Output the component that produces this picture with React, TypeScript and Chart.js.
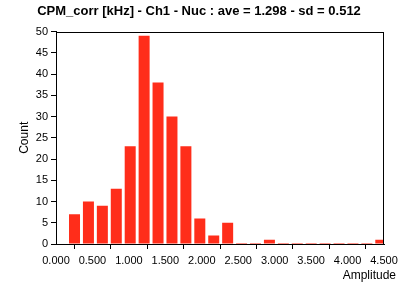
import React, { useEffect, useRef } from "react";
import { Chart, registerables } from "chart.js";

Chart.register(...registerables);

const titleText = "CPM_corr [kHz] - Ch1 - Nuc : ave = 1.298 - sd = 0.512";
const xAxisTitle = "Amplitude";
const yAxisTitle = "Count";

const binCenters = [
  0.254, 0.445, 0.636, 0.827, 1.018, 1.209, 1.400, 1.591, 1.782, 1.973, 2.164, 2.355,
  2.546, 2.737, 2.928, 3.119, 3.310, 3.501, 3.692, 3.883, 4.074, 4.265, 4.456,
];
const counts = [7, 10, 9, 13, 23, 49, 38, 30, 23, 6, 2, 5, 0, 0, 1, 0, 0, 0, 0, 0, 0, 0, 1];

const FONT = "'Liberation Sans', Arial, sans-serif";

const framePlugin = {
  id: "frame",
  afterDatasetsDraw(chart: any) {
    const { ctx, chartArea } = chart;
    ctx.save();
    ctx.strokeStyle = "#000";
    ctx.lineWidth = 1;
    ctx.strokeRect(
      Math.round(chartArea.left) + 0.5,
      Math.round(chartArea.top) + 0.5,
      Math.round(chartArea.right - chartArea.left) - 1,
      Math.round(chartArea.bottom - chartArea.top)
    );
    ctx.restore();
  },
  afterDraw(chart: any) {
    const { ctx, chartArea } = chart;
    ctx.save();
    ctx.fillStyle = "#000";
    ctx.font = "12px " + FONT;
    ctx.textAlign = "right";
    ctx.textBaseline = "middle";
    ctx.fillText(xAxisTitle, chartArea.right + 12, chartArea.bottom + 32);
    ctx.restore();
  },
};

export default function App() {
  const ref = useRef<HTMLCanvasElement>(null);
  useEffect(() => {
    document.body.style.margin = "0";
    const chart = new Chart(ref.current!, {
      type: "bar",
      data: {
        datasets: [
          {
            data: binCenters.map((x, i) => ({ x, y: counts[i] })),
            backgroundColor: "#FF2D1A",
            borderWidth: 0,
            categoryPercentage: 1,
            barPercentage: 0.79,
            minBarLength: 1,
          },
        ],
      },
      options: {
        animation: false,
        responsive: false,
        layout: { padding: { left: 14, right: 24, top: 0, bottom: 0 } },
        plugins: {
          legend: { display: false },
          tooltip: { enabled: false },
          title: {
            display: true,
            text: titleText,
            color: "#000",
            font: { family: FONT, size: 13, weight: "bold" },
            padding: { top: 4, bottom: 12 },
          },
        },
        scales: {
          x: {
            type: "linear",
            min: 0,
            max: 4.5,
            offset: false,
            afterFit: (s: any) => {
              s.height = 43;
            },
            ticks: {
              stepSize: 0.5,
              color: "#000",
              font: { family: FONT, size: 11 },
              padding: 5,
              maxRotation: 0,
              callback: (v: any) => Number(v).toFixed(3),
            },
            grid: {
              display: true,
              drawOnChartArea: false,
              drawTicks: true,
              tickLength: 5,
              color: "#000",
            },
            border: { display: true, color: "#000" },
          },
          y: {
            min: 0,
            max: 50,
            afterFit: (s: any) => {
              s.width = 42;
            },
            ticks: {
              stepSize: 5,
              color: "#000",
              font: { family: FONT, size: 11 },
              padding: 3,
            },
            grid: {
              display: true,
              drawOnChartArea: false,
              drawTicks: true,
              tickLength: 5,
              color: "#000",
            },
            border: { display: true, color: "#000" },
            title: {
              display: true,
              text: yAxisTitle,
              color: "#000",
              font: { family: FONT, size: 12 },
              padding: { top: 3, bottom: 0 },
            },
          },
        },
      },
      plugins: [framePlugin],
    });
    return () => chart.destroy();
  }, []);
  return (
    <div style={{ position: "absolute", left: 0, top: 0, width: 408, height: 287 }}>
      <canvas ref={ref} width={408} height={287} />
    </div>
  );
}
